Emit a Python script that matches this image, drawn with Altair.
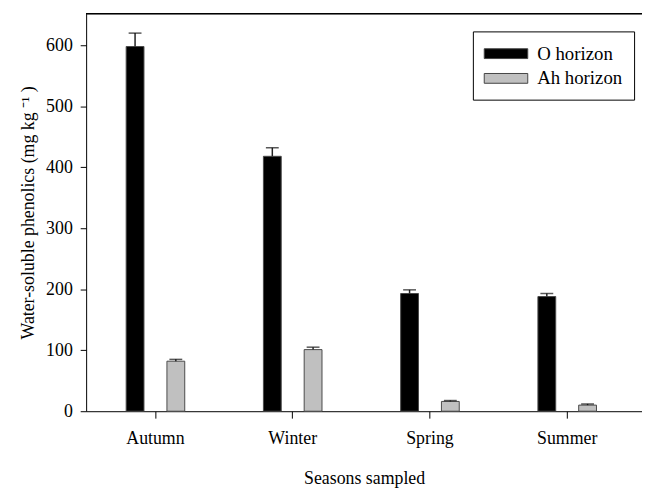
import altair as alt
import pandas as pd

seasons = ["Autumn", "Winter", "Spring", "Summer"]
horizons = ["O horizon", "Ah horizon"]
o_vals = [598, 418, 193, 188]
o_err = [22, 14, 6, 5]
ah_vals = [82, 101, 16, 10]
ah_err = [3, 4, 1.5, 2]

rows = []
for i, s in enumerate(seasons):
    rows.append({"season": s, "horizon": horizons[0], "value": o_vals[i], "top": o_vals[i] + o_err[i]})
    rows.append({"season": s, "horizon": horizons[1], "value": ah_vals[i], "top": ah_vals[i] + ah_err[i]})
df = pd.DataFrame(rows)

W, H = 562, 402
FONT = "Liberation Serif"

x_enc = alt.X(
    "season:N", sort=seasons,
    scale=alt.Scale(paddingInner=0, paddingOuter=0.025, align=0.1),
    axis=alt.Axis(title="Seasons sampled", labelAngle=0, tickSize=7, labelPadding=12,
                  titlePadding=22),
)
xo_enc = alt.XOffset("horizon:N", sort=horizons,
                     scale=alt.Scale(paddingInner=0.563, paddingOuter=0.965))
y_scale = alt.Scale(domain=[0, 652], nice=False, zero=True)

base = alt.Chart(df)

bars = base.mark_bar(stroke="#4a4a4a", strokeWidth=1).encode(
    x=x_enc,
    xOffset=xo_enc,
    y=alt.Y("value:Q", scale=y_scale,
            axis=alt.Axis(title="Water-soluble phenolics (mg kg \u207b\u00b9 )",
                          values=[0, 100, 200, 300, 400, 500, 600],
                          tickSize=6, labelPadding=8, titlePadding=8)),
    color=alt.Color("horizon:N", sort=horizons,
                    scale=alt.Scale(domain=horizons, range=["#000000", "#c0c0c0"]),
                    legend=alt.Legend(title=None, orient="none", legendX=391, legendY=18,
                                      symbolType="M-2,-0.45H2V0.45H-2Z", symbolSize=484,
                                      symbolOffset=11,
                                      symbolStrokeColor="#444444", symbolStrokeWidth=1,
                                      labelFont=FONT, labelFontSize=19, labelColor="black",
                                      labelOffset=20, rowPadding=3,
                                      padding=11, strokeColor="black", fillColor="white")),
)

stems = base.mark_rule(color="#222222", strokeWidth=1.5).encode(
    x=x_enc, xOffset=xo_enc,
    y=alt.Y("value:Q", scale=y_scale),
    y2="top:Q",
)

caps = base.mark_tick(color="#111111", size=13, thickness=1.5, orient="horizontal").encode(
    x=x_enc, xOffset=xo_enc,
    y=alt.Y("top:Q", scale=y_scale),
)

top_line = base.mark_rule(color="black", strokeWidth=1).encode(
    x=alt.value(0), x2=alt.value(W), y=alt.value(0)
)

chart = alt.layer(bars, stems, caps, top_line).properties(
    width=W, height=H,
    autosize=alt.AutoSizeParams(type="none"),
    padding={"left": 79, "top": 3, "right": 0, "bottom": 77},
).configure_view(stroke=None).configure_axis(
    grid=False, domainColor="black", tickColor="black", labelColor="black",
    titleColor="black", labelFont=FONT, titleFont=FONT, labelFontSize=18,
    titleFontSize=18, titleFontWeight="normal", domainWidth=1, tickWidth=1,
)

chart.save("out.html", embed_options={"renderer": "svg", "actions": False})
